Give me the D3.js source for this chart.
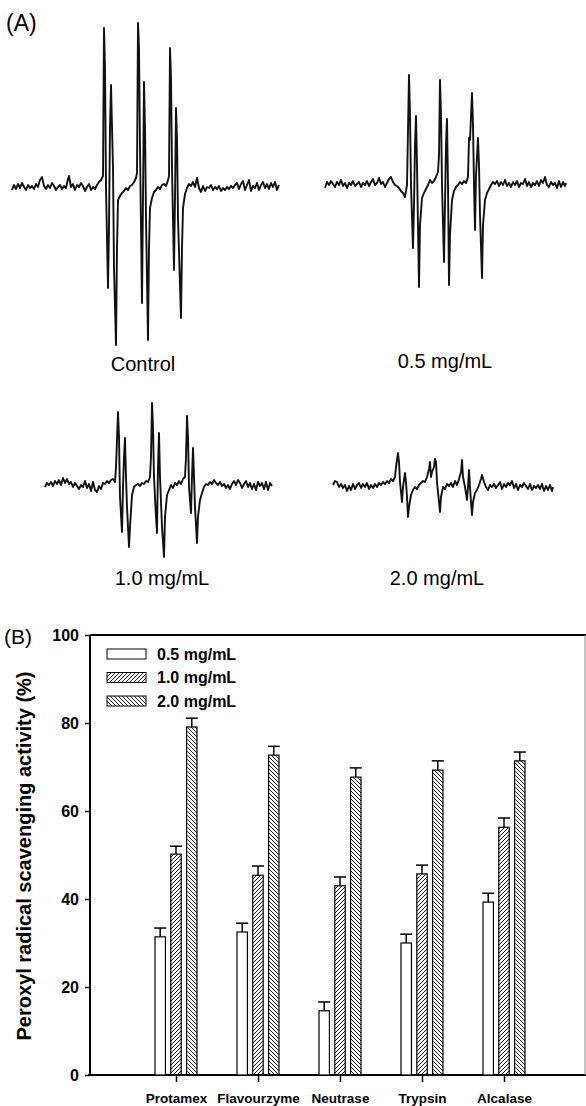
<!DOCTYPE html>
<html>
<head>
<meta charset="utf-8">
<script src="https://cdn.jsdelivr.net/npm/d3@7"></script>
<style>
  body { margin: 0; background: #fff; }
  text { font-family: "Liberation Sans", Arial, sans-serif; fill: #000; }
</style>
</head>
<body>
<script>
// ---- (B) bar chart values ----
var enzymes = ["Protamex", "Flavourzyme", "Neutrase", "Trypsin", "Alcalase"];
var doses = ["0.5 mg/mL", "1.0 mg/mL", "2.0 mg/mL"];
var act05 = [31.4, 32.5, 14.6, 30.0, 39.3];
var act10 = [50.2, 45.4, 43.0, 45.7, 56.3];
var act20 = [79.1, 72.7, 67.7, 69.3, 71.4];
var err05 = [2.0, 2.0, 2.0, 2.0, 2.0];
var err10 = [1.8, 2.1, 2.0, 2.0, 2.1];
var err20 = [2.0, 2.0, 2.1, 2.1, 2.0];
var yTicks = [0, 20, 40, 60, 80, 100];

// ---- (A) ESR traces, digitised as [field position, signal] ----
var specLabels = ["Control", "0.5 mg/mL", "1.0 mg/mL", "2.0 mg/mL"];

var specControl = [[12,-2],[14,3],[16,-1],[18,4],[20,0],[22,5],[24,1],[26,-2],[28,3],[30,0],[32,2],[34,-1],[36,4],[38,1],[40,8],[42,11],[44,2],[46,-1],[48,3],[50,0],[52,5],[54,2],[56,-2],[58,1],[60,3],[62,-1],[64,2],[66,0],[68,9],[69,12],[71,1],[73,4],[75,-2],[77,3],[79,1],[81,5],[83,2],[85,-3],[87,1],[89,4],[91,-2],[93,1],[95,-1],[97,3],[99,6],[101,8],[102,10],
  [103,12],[104,160],[105,120],[106,0],[108,-100],[109,-40],[110,60],[111,103],[113,20],[114,-80],[116,-157],[117,-60],[118,-12],[120,-8],[122,-5],[124,-3],[126,0],[128,-2],[130,2],[132,3],[134,6],[136,10],
  [137,15],[138,165],[139,140],[140,40],[142,-115],[143,-10],[144,106],[145,60],[146,-30],[148,-152],[149,-60],[150,-20],[152,-10],[154,-4],[156,-2],[158,1],[160,-1],[162,3],[164,4],[166,2],[168,8],[169,12],
  [170,140],[171,110],[172,20],[174,-82],[175,-10],[176,80],[177,50],[178,-30],[181,-130],[182,-60],[183,-20],[185,-6],[187,0],[189,4],[191,2],[193,6],[195,1],[197,10],[199,0],[201,-4],[203,2],[205,-3],[207,1],[209,0],[211,3],[213,-2],[215,1],[217,-1],[219,2],[221,-3],[223,0],[225,-2],[227,1],[229,-1],[231,2],[233,0],[235,3],[237,5],[239,-1],[241,4],[243,7],[245,-2],[247,3],[249,8],[251,-3],[253,2],[255,0],[257,5],[259,-2],[261,3],[263,6],[265,0],[267,4],[269,-1],[271,5],[273,1],[275,6],[277,-2],[279,3]];

var spec05 = [[325,-3],[327,3],[329,0],[331,4],[333,1],[335,-2],[337,3],[339,0],[341,5],[343,-1],[345,2],[347,-3],[349,2],[351,0],[353,4],[355,-1],[357,1],[359,3],[361,-2],[363,2],[365,0],[367,4],[369,-1],[371,3],[373,6],[375,0],[377,2],[379,7],[381,1],[383,3],[385,-2],[387,2],[389,6],[391,8],[393,3],[395,0],[397,-1],[399,-3],[401,-6],[403,-8],[405,-12],
  [407,0],[409,110],[410,70],[411,0],[413,-63],[414,-20],[415,40],[416,69],[417,20],[419,-102],[420,-40],[422,-13],[424,-8],[426,-4],[428,0],[430,5],[432,2],[434,4],[436,8],[438,13],
  [439,30],[440,105],[441,70],[442,0],[444,-77],[445,-20],[446,40],[447,66],[448,0],[449,-100],[450,-50],[452,-15],[454,-6],[456,-2],[458,0],[460,3],[462,1],[464,4],[466,2],[468,8],
  [469,47],[470,45],[472,92],[473,60],[474,0],[475,-45],[476,10],[478,47],[479,20],[480,-30],[482,-93],[483,-40],[485,-15],[487,-8],[489,-4],[491,0],[493,3],[495,1],[497,4],[499,-1],[501,3],[503,0],[505,5],[507,-1],[509,2],[511,-2],[513,3],[515,0],[517,4],[519,-2],[521,2],[523,1],[525,6],[527,-1],[529,3],[531,-2],[533,2],[535,0],[537,4],[539,-1],[541,5],[543,2],[545,8],[547,0],[549,-2],[551,3],[553,0],[555,2],[557,-3],[559,4],[561,-2],[563,3],[565,-1],[566,2]];

var spec10 = [[45,0],[47,4],[49,2],[51,5],[53,1],[55,6],[57,3],[59,7],[61,2],[63,9],[65,4],[67,8],[69,3],[71,5],[73,0],[75,4],[77,1],[79,-2],[81,2],[83,0],[85,6],[87,-1],[89,3],[91,-4],[93,5],[95,-3],[97,-5],[99,1],[101,-2],[103,4],[105,3],[107,6],[109,4],[111,7],[113,8],[115,5],
  [116,20],[118,75],[119,50],[120,-10],[122,-45],[123,0],[124,30],[125,49],[126,10],[127,-20],[129,-60],[130,-40],[132,-8],[134,0],[136,2],[138,3],[140,1],[142,4],[144,3],[146,6],[148,5],[150,10],
  [151,30],[152,84],[153,60],[154,10],[156,-30],[157,-46],[158,20],[159,54],[160,10],[162,-40],[164,-70],[165,-30],[167,-8],[169,-3],[171,2],[173,-1],[175,4],[177,2],[179,6],[181,3],[183,8],[185,10],
  [186,30],[187,71],[188,50],[189,0],[191,-26],[192,10],[193,39],[194,10],[195,-20],[197,-56],[198,-30],[200,-13],[202,-6],[204,0],[206,3],[208,2],[210,5],[212,3],[214,7],[216,4],[218,2],[220,5],[222,1],[224,3],[226,-1],[228,2],[230,-2],[232,3],[234,6],[236,2],[238,7],[240,4],[242,-1],[244,3],[246,6],[248,0],[250,4],[252,-2],[254,3],[256,-3],[258,5],[260,1],[262,4],[264,-2],[266,5],[268,-3],[270,4],[272,1]];

var spec20 = [[333,2],[335,6],[337,5],[339,0],[341,3],[343,-1],[345,2],[347,-4],[349,1],[351,-3],[353,3],[355,-2],[357,2],[359,4],[361,-1],[363,3],[365,0],[367,4],[369,-2],[371,2],[373,-1],[375,3],[377,0],[379,4],[381,2],[383,5],[385,3],[387,6],[389,4],[391,8],[393,6],[395,10],
  [396,20],[398,34],[399,25],[400,5],[402,-15],[403,0],[405,14],[406,5],[407,-10],[408,-30],[409,-20],[411,-8],[413,-3],[415,0],[417,-2],[419,2],[421,4],[423,6],[425,5],[427,10],
  [429,18],[430,25],[431,10],[432,15],[434,20],[435,28],[436,25],[437,5],[439,-15],[440,-25],[441,-10],[443,0],[445,-2],[447,3],[449,1],[451,4],[453,0],[455,6],[457,2],[459,8],
  [461,15],[462,27],[463,10],[465,0],[467,-13],[468,0],[469,17],[470,0],[471,-15],[472,-28],[473,-15],[475,-6],[477,-3],[479,2],[481,8],[482,12],[484,5],[486,0],[488,-3],[490,2],[492,0],[494,3],[496,-1],[498,2],[500,5],[502,-2],[504,3],[506,0],[508,4],[510,2],[512,6],[514,-1],[516,3],[518,-3],[520,2],[522,0],[524,4],[526,1],[528,-2],[530,3],[532,-3],[534,1],[536,-1],[538,2],[540,-2],[542,3],[544,-4],[546,1],[548,-3],[550,2],[552,-4],[553,0]];

var W = 586, H = 1106;

var svg = d3.select("body").append("svg")
    .attr("width", W)
    .attr("height", H);

// ================= panel A =================
svg.append("text")
    .attr("x", 6).attr("y", 31)
    .style("font-size", "23px")
    .text("(A)");

// where each trace sits on the page
var spots = [
  {data: specControl, left: 12,  right: 279, base: 188, lx: 143, ly: 371},
  {data: spec05,      left: 325, right: 566, base: 185, lx: 445, ly: 368},
  {data: spec10,      left: 45,  right: 272, base: 487, lx: 162, ly: 585},
  {data: spec20,      left: 333, right: 553, base: 487, lx: 437, ly: 585}
];

spots.forEach(function(p, i) {
  var xs = d3.scaleLinear()
      .domain(d3.extent(p.data, function(d) { return d[0]; }))
      .range([p.left, p.right]);
  var ys = d3.scaleLinear().domain([-200, 200]).range([p.base + 200, p.base - 200]);
  var line = d3.line()
      .x(function(d) { return xs(d[0]); })
      .y(function(d) { return ys(d[1]); });

  svg.append("path")
      .datum(p.data)
      .attr("d", line)
      .attr("fill", "none")
      .attr("stroke", "#111")
      .attr("stroke-width", 1.9)
      .attr("stroke-linejoin", "round");

  svg.append("text")
      .attr("x", p.lx).attr("y", p.ly)
      .attr("text-anchor", "middle")
      .style("font-size", "20px")
      .text(specLabels[i]);
});

// ================= panel B =================
// (don't call these top/left at global scope - window.top is read-only)
var bLeft = 90, bRight = 585, bTop = 635, bBottom = 1075;

var defs = svg.append("defs");
defs.append("pattern")
    .attr("id", "fwd")
    .attr("patternUnits", "userSpaceOnUse")
    .attr("width", 4).attr("height", 4)
  .append("path")
    .attr("d", "M-1,1 l2,-2 M0,4 l4,-4 M3,5 l2,-2")
    .attr("stroke", "#000").attr("stroke-width", 0.9);
defs.append("pattern")
    .attr("id", "bck")
    .attr("patternUnits", "userSpaceOnUse")
    .attr("width", 4).attr("height", 4)
  .append("path")
    .attr("d", "M-1,3 l2,2 M0,0 l4,4 M3,-1 l2,2")
    .attr("stroke", "#000").attr("stroke-width", 0.9);

var fills = ["#fff", "url(#fwd)", "url(#bck)"];
var series = [act05, act10, act20];
var errs = [err05, err10, err20];

var y = d3.scaleLinear().domain([0, 100]).range([bBottom, bTop]);
var x = d3.scalePoint().domain(enzymes).range([176, 504]);
var xIn = d3.scaleBand().domain(doses).range([-21, 21]).paddingInner(0.34);

svg.append("text")
    .attr("x", 4).attr("y", 644)
    .style("font-size", "21px")
    .text("(B)");

// y axis
var yAxis = svg.append("g")
    .attr("transform", "translate(" + bLeft + ",0)")
    .call(d3.axisLeft(y).tickValues(yTicks).tickSize(5).tickPadding(6));
yAxis.select(".domain").remove();
yAxis.selectAll("line").attr("stroke", "#000").attr("stroke-width", 1.5);
yAxis.selectAll("text")
    .style("font-size", "16px")
    .style("font-weight", "bold")
    .style("font-family", "'Liberation Sans', Arial, sans-serif");

// x axis
var xAxis = svg.append("g")
    .attr("transform", "translate(0," + bBottom + ")")
    .call(d3.axisBottom(x).tickSize(7).tickPadding(11));
xAxis.select(".domain").remove();
xAxis.selectAll("line").attr("stroke", "#000").attr("stroke-width", 1.5);
xAxis.selectAll("text")
    .style("font-size", "13.5px")
    .style("font-weight", "bold")
    .style("font-family", "'Liberation Sans', Arial, sans-serif");

// frame
svg.append("line").attr("x1", bLeft).attr("x2", W).attr("y1", bTop).attr("y2", bTop)
    .attr("stroke", "#000").attr("stroke-width", 2);
svg.append("line").attr("x1", bLeft).attr("x2", bLeft).attr("y1", bTop).attr("y2", bBottom)
    .attr("stroke", "#000").attr("stroke-width", 2);
svg.append("line").attr("x1", bLeft - 2).attr("x2", W).attr("y1", bBottom).attr("y2", bBottom)
    .attr("stroke", "#000").attr("stroke-width", 2);
svg.append("line").attr("x1", bRight).attr("x2", bRight).attr("y1", bTop).attr("y2", bBottom)
    .attr("stroke", "#888").attr("stroke-width", 1);

// bars + error bars
series.forEach(function(vals, s) {
  var g = svg.append("g");
  g.selectAll(".bar")
      .data(vals)
      .enter().append("rect")
      .attr("class", "bar")
      .attr("x", function(d, i) { return x(enzymes[i]) + xIn(doses[s]); })
      .attr("width", xIn.bandwidth())
      .attr("y", function(d) { return y(d); })
      .attr("height", function(d) { return y(0) - y(d); })
      .attr("fill", fills[s])
      .attr("stroke", "#000")
      .attr("stroke-width", 1.2);

  var cx = function(i) { return x(enzymes[i]) + xIn(doses[s]) + xIn.bandwidth() / 2; };
  g.selectAll(".stem")
      .data(vals)
      .enter().append("line")
      .attr("x1", function(d, i) { return cx(i); })
      .attr("x2", function(d, i) { return cx(i); })
      .attr("y1", function(d) { return y(d); })
      .attr("y2", function(d, i) { return y(d + errs[s][i]); })
      .attr("stroke", "#000").attr("stroke-width", 1.5);
  g.selectAll(".cap")
      .data(vals)
      .enter().append("line")
      .attr("x1", function(d, i) { return cx(i) - 6; })
      .attr("x2", function(d, i) { return cx(i) + 6; })
      .attr("y1", function(d, i) { return y(d + errs[s][i]); })
      .attr("y2", function(d, i) { return y(d + errs[s][i]); })
      .attr("stroke", "#000").attr("stroke-width", 1.5);
});

// legend
var leg = svg.append("g").attr("transform", "translate(107,649)");
doses.forEach(function(d, i) {
  leg.append("rect")
      .attr("x", 0).attr("y", i * 23.5)
      .attr("width", 39).attr("height", 10)
      .attr("fill", fills[i])
      .attr("stroke", "#000").attr("stroke-width", 1);
  leg.append("text")
      .attr("x", 50).attr("y", i * 23.5 + 10.5)
      .style("font-size", "16px")
      .style("font-weight", "bold")
      .text(d);
});

// y title
svg.append("text")
    .attr("transform", "translate(31,856) rotate(-90)")
    .attr("text-anchor", "middle")
    .style("font-size", "20px")
    .style("font-weight", "bold")
    .text("Peroxyl radical scavenging activity (%)");
</script>
</body>
</html>
